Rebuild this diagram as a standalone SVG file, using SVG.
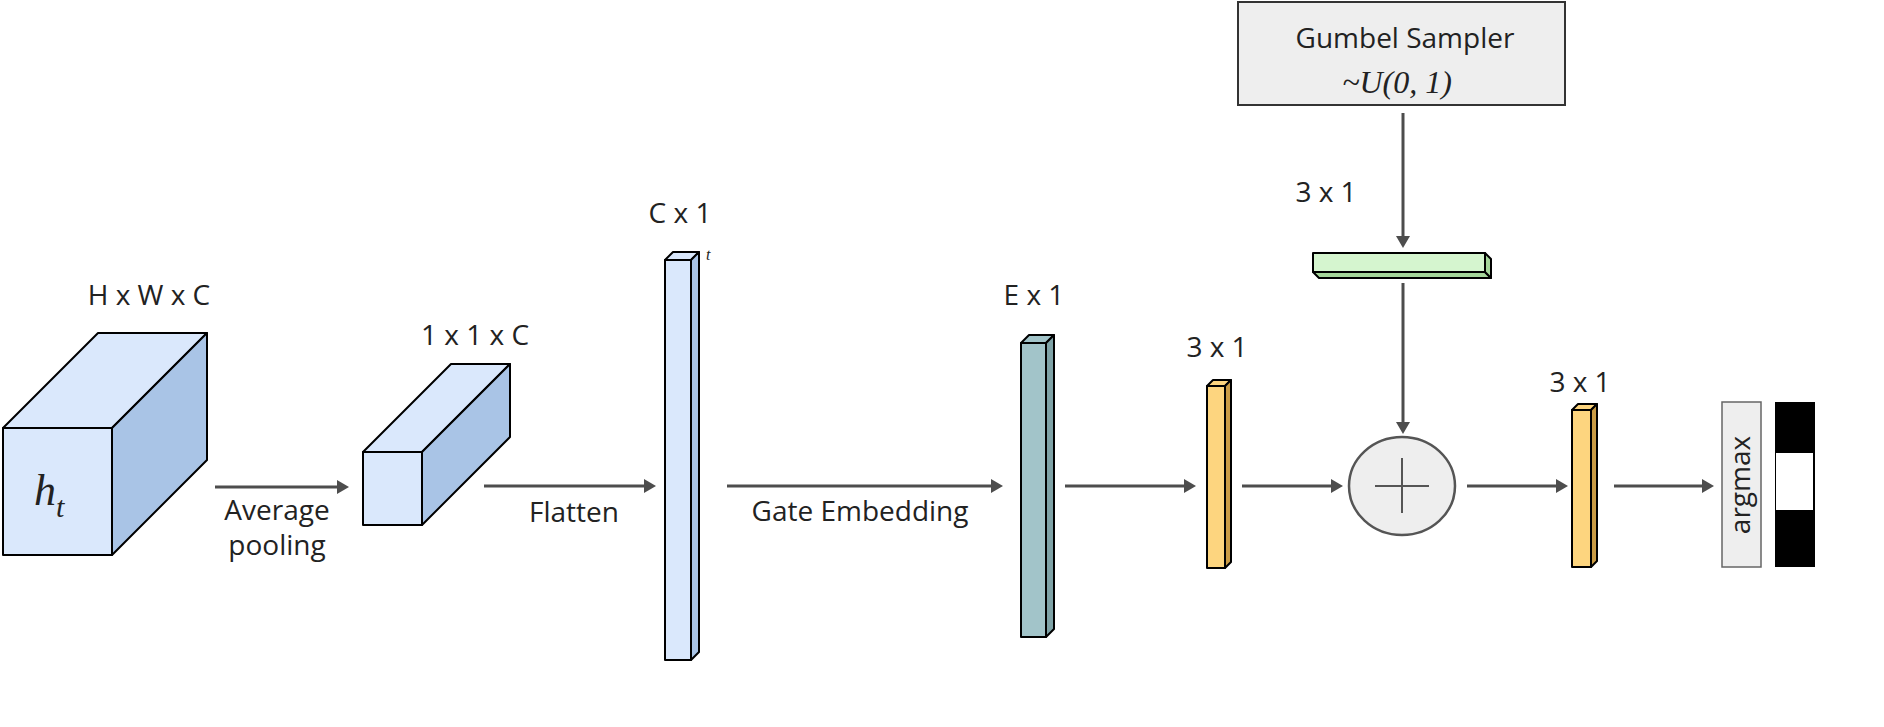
<svg xmlns="http://www.w3.org/2000/svg" width="1884" height="727" viewBox="0 0 1884 727">
<defs>
<marker id="ah" markerUnits="userSpaceOnUse" markerWidth="12" markerHeight="14" refX="3" refY="7" orient="auto">
<path d="M0,0 L12,7 L0,14 z" fill="#4d4d4d"/>
</marker>
</defs>
<style>
.lbl{font-family:"Open Sans","Liberation Sans",sans-serif;font-size:28px;fill:#222;text-anchor:middle}
.it{font-family:"Liberation Serif",serif;font-style:italic;fill:#222}
.edge{stroke:#4d4d4d;stroke-width:3;fill:none;marker-end:url(#ah)}
.blk{stroke:#000;stroke-width:2;stroke-linejoin:round}
.bf{fill:#dae8fc}.bs{fill:#a9c4e6}
.tf{fill:#a2c4c9}.ts{fill:#7fa3a7}
.yf{fill:#fdd57f}.ys{fill:#c99b45}
.gf{fill:#d5f5cf}.gs{fill:#a5d69a}
</style>
<rect width="1884" height="727" fill="#fff"/>

<g id="connectors">
<line class="edge" x1="215" y1="487" x2="340" y2="487"/>
<line class="edge" x1="484" y1="486" x2="647" y2="486"/>
<line class="edge" x1="727" y1="486" x2="994" y2="486"/>
<line class="edge" x1="1065" y1="486" x2="1187" y2="486"/>
<line class="edge" x1="1242" y1="486" x2="1334" y2="486"/>
<line class="edge" x1="1467" y1="486" x2="1559" y2="486"/>
<line class="edge" x1="1614" y1="486" x2="1705" y2="486"/>
<line class="edge" x1="1403" y1="113" x2="1403" y2="239"/>
<line class="edge" x1="1403" y1="283" x2="1403" y2="425"/>
</g>

<g id="input-cube">
<polygon class="blk bf" points="3,428 98,333 207,333 112,428"/>
<polygon class="blk bs" points="112,428 207,333 207,460 112,555"/>
<rect class="blk bf" x="3" y="428" width="109" height="127"/>
<text class="it" x="34" y="505" font-size="44">h</text>
<text class="it" x="56" y="517" font-size="30">t</text>
<text class="lbl" x="149" y="305">H x W x C</text>
<text class="lbl" x="277" y="520">Average</text>
<text class="lbl" x="277" y="555">pooling</text>
</g>

<g id="pooled-cube">
<polygon class="blk bf" points="363,452 451,364 510,364 422,452"/>
<polygon class="blk bs" points="422,452 510,364 510,437 422,525"/>
<rect class="blk bf" x="363" y="452" width="59" height="73"/>
<text class="lbl" x="475" y="345">1 x 1 x C</text>
<text class="lbl" x="574" y="522">Flatten</text>
</g>

<g id="flat-vector">
<polygon class="blk bf" points="665,260 673,252 699,252 691,260"/>
<polygon class="blk bs" points="691,260 699,252 699,652 691,660"/>
<rect class="blk bf" x="665" y="260" width="26" height="400"/>
<text class="lbl" x="680" y="223">C x 1</text>
<text class="it" x="706" y="260" font-size="16">t</text>
<text class="lbl" x="860" y="521">Gate Embedding</text>
</g>

<g id="embedding">
<polygon class="blk tf" points="1021,343 1029,335 1054,335 1046,343"/>
<polygon class="blk ts" points="1046,343 1054,335 1054,629 1046,637"/>
<rect class="blk tf" x="1021" y="343" width="25" height="294"/>
<text class="lbl" x="1034" y="305">E x 1</text>
</g>

<g id="logits">
<polygon class="blk yf" points="1207,386 1213,380 1231,380 1225,386"/>
<polygon class="blk ys" points="1225,386 1231,380 1231,562 1225,568"/>
<rect class="blk yf" x="1207" y="386" width="18" height="182"/>
<text class="lbl" x="1217" y="357">3 x 1</text>
</g>

<g id="gumbel-sampler">
<rect x="1238" y="2" width="327" height="103" fill="#eeeeee" stroke="#333" stroke-width="2"/>
<text class="lbl" x="1405" y="48">Gumbel Sampler</text>
<text class="it" x="1397" y="93" font-size="32" text-anchor="middle">~U(0, 1)</text>
</g>

<g id="noise">
<polygon class="blk gs" points="1313,272 1485,272 1491,278 1319,278"/>
<polygon class="blk gs" points="1485,253 1491,259 1491,278 1485,272"/>
<rect class="blk gf" x="1313" y="253" width="172" height="19"/>
<text class="lbl" x="1326" y="202">3 x 1</text>
</g>

<g id="add">
<ellipse cx="1402" cy="486" rx="53" ry="49" fill="#eeeeee" stroke="#555" stroke-width="2.5"/>
<line x1="1375" y1="486" x2="1429" y2="486" stroke="#555" stroke-width="2"/>
<line x1="1402" y1="458" x2="1402" y2="513" stroke="#555" stroke-width="2"/>
</g>

<g id="noisy-logits">
<polygon class="blk yf" points="1572,410 1578,404 1597,404 1591,410"/>
<polygon class="blk ys" points="1591,410 1597,404 1597,561 1591,567"/>
<rect class="blk yf" x="1572" y="410" width="19" height="157"/>
<text class="lbl" x="1580" y="392">3 x 1</text>
</g>

<g id="argmax">
<rect x="1722" y="402" width="39" height="165" fill="#eeeeee" stroke="#666" stroke-width="1.5"/>
<text class="lbl" transform="translate(1750,485) rotate(-90)" x="0" y="0" font-size="27">argmax</text>
</g>

<g id="one-hot">
<rect x="1775" y="402" width="40" height="165" fill="#000"/>
<rect x="1776" y="453" width="37" height="57" fill="#fff"/>
</g>
</svg>
